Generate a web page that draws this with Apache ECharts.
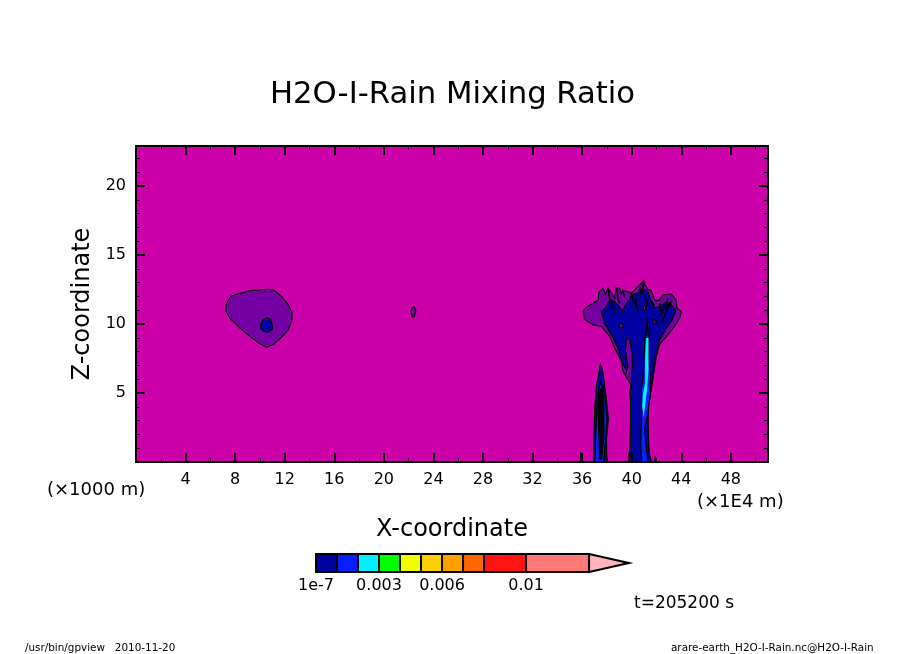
<!DOCTYPE html>
<html>
<head>
<meta charset="utf-8">
<title>H2O-I-Rain Mixing Ratio</title>
<script src="https://cdn.jsdelivr.net/npm/echarts@6/dist/echarts.min.js"></script>
<style>
  html, body { margin: 0; padding: 0; background: #fff; }
  #chart { width: 904px; height: 654px; }
</style>
</head>
<body>
<div id="chart"></div>
<script>
// tick labels (x in 1E4 m, z in 1000 m)
const xTickValues = [4, 8, 12, 16, 20, 24, 28, 32, 36, 40, 44, 48];
const zTickValues = [5, 10, 15, 20];

// colour bar levels
const levelEdges = [1e-7, 0.001, 0.002, 0.003, 0.004, 0.005, 0.006, 0.007, 0.008, 0.01, 0.013];
const overflowTop = 0.0149;
const levelTickValues = [0, 0.003, 0.006, 0.01];
const levelTickLabels = ["1e-7", "0.003", "0.006", "0.01"];

// contour outlines, [x, z] in axis units
const smallCellOuter = [[7.26,11.15],[7.31,11.51],[7.64,11.99],[8.12,12.16],[9.2,12.42],[10,12.47],[10.76,12.52],[11.21,12.4],[11.75,11.99],[12.29,11.39],[12.61,10.79],[12.56,10.19],[12.29,9.58],[11.75,9.06],[11.08,8.5],[10.54,8.33],[10,8.57],[9.2,9.1],[8.39,9.7],[7.58,10.43],[7.26,10.91]];
const smallCellCore = [[10.06,9.95],[10.22,10.26],[10.54,10.45],[10.81,10.35],[11,9.95],[11,9.63],[10.67,9.42],[10.32,9.46],[10.06,9.7]];
const tinyCell = [[22.18,10.9],[22.3,11.2],[22.45,11.23],[22.58,10.95],[22.45,10.55],[22.3,10.51]];

const anvilOuter = [[36.07,10.91],[36.34,11.22],[36.88,11.51],[37.28,11.7],[37.36,12.28],[37.68,12.59],[37.87,12.18],[38.09,12.59],[38.36,12.28],[38.63,11.87],[38.76,12.66],[39.03,12.59],[39.16,12.23],[39.3,12.42],[39.7,12.35],[39.97,12.23],[40.51,12.71],[40.91,13.07],[41.1,12.83],[41.31,12.52],[41.58,12.42],[41.85,11.75],[42.2,11.7],[42.52,12.11],[43.2,12.18],[43.6,11.7],[43.65,11.15],[44,10.91],[43.92,10.5],[43.46,9.83],[42.93,9.23],[42.25,8.51],[41.99,7.66],[41.78,6.47],[41.54,5.02],[41.32,3.82],[41.32,2.62],[41.4,0.7],[41.59,0],[39.84,0],[39.84,0.7],[39.9,2.62],[39.9,4.3],[39.84,5.14],[39.98,5.55],[39.3,6.58],[39.17,7.31],[38.63,8.27],[38.22,9.11],[37.55,9.83],[36.88,9.95],[36.21,10.31]];
const anvilCore = [[37.55,10.91],[37.95,11.22],[38.14,11.63],[38.44,11.75],[38.89,11.39],[39.24,10.91],[39.51,11.39],[39.84,11.75],[39.97,12.11],[40.43,12.18],[40.91,12.52],[41.31,12.42],[41.5,11.75],[41.85,11.15],[42.25,11.27],[42.85,11.63],[43.2,11.39],[43.55,10.98],[43.28,10.31],[42.79,9.71],[42.2,8.75],[41.93,7.66],[41.75,6.47],[41.52,5.02],[41.3,3.82],[41.3,2.62],[41.38,0.7],[41.57,0],[39.86,0],[39.86,0.7],[39.92,2.62],[39.92,4.3],[39.88,5.14],[39.98,5.62],[39.9,6.22],[39.3,7.07],[38.89,8.27],[38.36,9.23],[37.82,10.07]];
const anvilSlit = [[39.57,8.99],[39.84,8.87],[40.02,7.9],[40.05,6.94],[39.97,6.22],[39.98,5.55],[39.5,6.3],[39.7,6.94],[39.49,8.02]];
const trunkBlue = [[41.13,9.59],[41.05,8.39],[40.91,5.98],[40.78,5.26],[40.84,4.3],[40.78,3.1],[40.73,1.42],[40.78,0],[41.32,0],[41.19,0.94],[41.05,2.38],[41.32,3.58],[41.51,5.02],[41.51,6.47],[41.32,7.43],[41.39,8.99],[41.39,9.71]];
const trunkCyan = [[41.15,9],[41.36,9],[41.36,6.7],[41.24,5.26],[40.97,3.22],[40.84,4.06],[40.9,4.9],[41.08,5.74],[41.08,7.43]];
const anvilHoleA = [[39,9.95],[39.16,10.08],[39.32,9.95],[39.25,9.72],[39.05,9.72]];
const anvilHoleB = [[40.95,11.3],[41.1,11.35],[41.18,11.1],[41.02,10.95]];
const anvilHoleC = [[41.72,10.3],[41.92,10.35],[42,10.1],[41.8,10]];
const anvilTopSpeck = [[40.85,13],[40.96,13.15],[41.07,13],[40.96,12.85]];

const spikeOuter = [[37.48,7.07],[37.15,5.5],[37.02,3.82],[36.94,1.66],[36.94,0],[38,0],[37.96,1.66],[38.12,3.1],[37.96,4.54],[37.75,5.98],[37.64,6.7]];
const spikeBlue = [[37.48,5.74],[37.21,4.78],[37.15,3.1],[37.07,1.42],[37.02,0],[37.75,0],[37.91,1.9],[38.01,3.1],[37.83,4.78],[37.64,5.38]];
const spikeDense = [[37.48,5.31],[37.32,4.78],[37.29,3.34],[37.37,1.66],[37.42,0.2],[37.58,0.2],[37.75,1.9],[37.75,4.54],[37.64,5.21]];

const anvilStreaks = [
  [[38.09,12.52],[38.22,11.87],[38.44,11.51]],
  [[38.81,12.59],[38.89,11.87],[39.03,11.51]],
  [[39.3,12.42],[39.43,11.87]],
  [[39.97,12.23],[40.16,11.63],[40.51,10.91]],
  [[40.64,12.71],[40.78,12.11]],
  [[41.04,12.11],[41.23,11.51],[41.13,11.03]],
  [[42.93,11.87],[42.52,11.03],[42.25,10.55]],
  [[43.2,11.63],[42.79,10.91],[42.39,10.07]],
  [[41.85,10.31],[42.04,10.07]],
  [[41.23,10.43],[41.23,9]],
  [[40.91,12.95],[40.91,12.23]],
  [[40.37,11.87],[40.32,11.15]],
  [[41.45,11.75],[41.85,11.39]],
  [[38.36,11.51],[38.63,10.79]],
  [[42.25,11.51],[42.39,10.91]],
  [[42.74,11.03],[43,11.51]],
  [[35.89,0],[35.89,0.7]],
  [[39.79,0],[39.79,0.7]],
  [[41.89,0],[41.89,0.4]]
];

// colours of the bands, lowest first; the plot background is the lowest
const backgroundColor = "#cc00a8";
const purple = "#7400a4";
const navy = "#0000a0";
const blue = "#0a1eff";
const cyan = "#00f0ff";
const levelColors = [navy, blue, cyan, "#00ff00", "#f0ff00", "#ffd000", "#ffa000", "#ff6600", "#ff1414", "#ff7878"];
const overflowColor = "#ffb4be";

const contourShapes = [
  { points: smallCellOuter, color: purple },
  { points: smallCellCore, color: navy },
  { points: tinyCell, color: purple },
  { points: anvilOuter, color: purple },
  { points: anvilCore, color: navy },
  { points: anvilSlit, color: purple },
  { points: trunkBlue, color: blue },
  { points: trunkCyan, color: cyan },
  { points: anvilHoleA, color: purple },
  { points: anvilHoleB, color: backgroundColor },
  { points: anvilHoleC, color: backgroundColor },
  { points: anvilTopSpeck, color: purple },
  { points: spikeOuter, color: navy },
  { points: spikeBlue, color: blue },
  { points: spikeDense, color: "#000" }
];

const fontFamily = '"DejaVu Sans", sans-serif';

function freeText(text, left, top, size) {
  return {
    text: text,
    left: left,
    top: top,
    padding: 0,
    textStyle: { fontFamily: fontFamily, fontSize: size, fontWeight: "normal", color: "#000" }
  };
}

// bottom/top and left/right copies of one set of ticks
function tickAxis(position, max, interval, length, width, extra) {
  return Object.assign({
    type: "value", gridIndex: 0, position: position, min: 0, max: max, interval: interval, z: 5,
    axisLine: { show: false, onZero: false }, splitLine: { show: false }, axisLabel: { show: false },
    axisTick: { show: true, inside: true, length: length, lineStyle: { color: "#000", width: width } }
  }, extra);
}

const chart = echarts.init(document.getElementById("chart"));

chart.setOption({
  animation: false,
  backgroundColor: "#fff",
  title: [
    freeText("H2O-I-Rain Mixing Ratio", 270, 80, 30.7),
    freeText("(×1000 m)", 47, 481, 18),
    freeText("(×1E4 m)", 697, 493, 18),
    freeText("t=205200 s", 634, 595, 17),
    freeText("/usr/bin/gpview   2010-11-20", 25, 643, 10.4),
    freeText("arare-earth_H2O-I-Rain.nc@H2O-I-Rain", 671, 643, 10.4)
  ],
  grid: [
    { left: 136, top: 146, width: 632, height: 316, show: true, backgroundColor: backgroundColor, borderColor: "#000", borderWidth: 2, z: 0 },
    { left: 316, top: 554, width: 313, height: 18 }
  ],
  xAxis: [
    tickAxis("bottom", 51, 4, 9, 2, {
      name: "X-coordinate",
      nameLocation: "middle",
      nameGap: 56,
      nameTextStyle: { fontFamily: fontFamily, fontSize: 24, color: "#000" },
      axisLabel: { show: true, customValues: xTickValues, margin: 10, fontFamily: fontFamily, fontSize: 16, color: "#000" }
    }),
    tickAxis("top", 51, 4, 9, 2),
    tickAxis("bottom", 51, 2, 4, 1),
    tickAxis("top", 51, 2, 4, 1),
    {
      type: "value", gridIndex: 1, min: 0, max: overflowTop,
      axisLine: { show: false }, axisTick: { show: false }, splitLine: { show: false },
      axisLabel: {
        customValues: levelTickValues,
        margin: 6,
        fontFamily: fontFamily,
        fontSize: 16,
        color: "#000",
        formatter: function (value) { return levelTickLabels[levelTickValues.indexOf(value)]; }
      }
    }
  ],
  yAxis: [
    tickAxis("left", 22.9, 5, 9, 2, {
      name: "Z-coordinate",
      nameLocation: "middle",
      nameGap: 41,
      nameRotate: 90,
      nameTextStyle: { fontFamily: fontFamily, fontSize: 24, color: "#000" },
      axisLabel: { show: true, customValues: zTickValues, margin: 10, fontFamily: fontFamily, fontSize: 16, color: "#000" }
    }),
    tickAxis("right", 22.9, 5, 9, 2),
    tickAxis("left", 22.9, 1, 4, 1),
    tickAxis("right", 22.9, 1, 4, 1),
    { type: "value", gridIndex: 1, min: 0, max: 1, show: false }
  ],
  series: [
    {
      type: "custom",
      coordinateSystem: "cartesian2d",
      xAxisIndex: 0,
      yAxisIndex: 0,
      clip: true,
      z: 2,
      data: contourShapes.map(function (s, i) { return [i]; }),
      renderItem: function (params, api) {
        const shape = contourShapes[params.dataIndex];
        return {
          type: "polygon",
          shape: { points: shape.points.map(function (p) { return api.coord(p); }) },
          style: { fill: shape.color, stroke: shape.color === cyan ? "none" : "#000", lineWidth: 1.2 }
        };
      }
    },
    {
      type: "custom",
      coordinateSystem: "cartesian2d",
      xAxisIndex: 0,
      yAxisIndex: 0,
      clip: true,
      z: 3,
      data: anvilStreaks.map(function (s, i) { return [i]; }),
      renderItem: function (params, api) {
        return {
          type: "polyline",
          shape: { points: anvilStreaks[params.dataIndex].map(function (p) { return api.coord(p); }) },
          style: { fill: "none", stroke: "#000", lineWidth: 1.5 }
        };
      }
    },
    {
      type: "custom",
      coordinateSystem: "cartesian2d",
      xAxisIndex: 4,
      yAxisIndex: 4,
      z: 2,
      data: levelColors.map(function (c, i) { return [i]; }),
      renderItem: function (params, api) {
        const i = params.dataIndex;
        const a = api.coord([levelEdges[i], 1]);
        const b = api.coord([levelEdges[i + 1], 0]);
        return {
          type: "rect",
          shape: { x: a[0], y: a[1], width: b[0] - a[0], height: b[1] - a[1] },
          style: { fill: levelColors[i], stroke: "#000", lineWidth: 2 }
        };
      }
    },
    {
      type: "custom",
      coordinateSystem: "cartesian2d",
      xAxisIndex: 4,
      yAxisIndex: 4,
      z: 2,
      data: [[0]],
      renderItem: function (params, api) {
        const last = levelEdges[levelEdges.length - 1];
        return {
          type: "polygon",
          shape: { points: [api.coord([last, 0]), api.coord([overflowTop, 0.5]), api.coord([last, 1])] },
          style: { fill: overflowColor, stroke: "#000", lineWidth: 2 }
        };
      }
    }
  ]
});
</script>
</body>
</html>
